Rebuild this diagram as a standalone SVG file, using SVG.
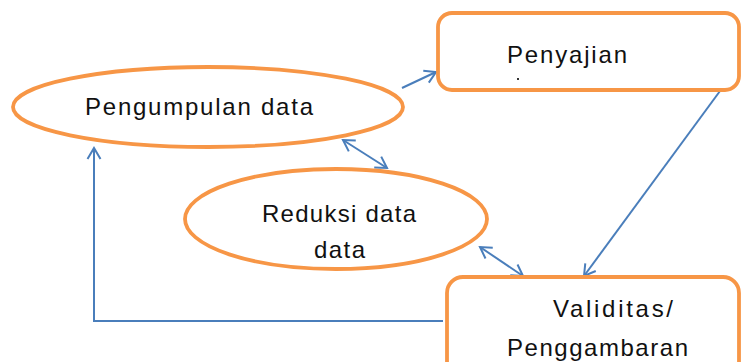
<svg xmlns="http://www.w3.org/2000/svg" width="741" height="362" viewBox="0 0 741 362">
<defs>
<marker id="ah" viewBox="-12 -8 14 16" refX="0" refY="0" markerWidth="14" markerHeight="16" markerUnits="userSpaceOnUse" orient="auto-start-reverse">
<path d="M-11,-6.5 L0,0 L-11,6.5" fill="none" stroke="#4A7EBB" stroke-width="2"/>
</marker>
<style>
.node{fill:#ffffff;stroke:#F79646;stroke-width:3.8}
.lbl{font-family:"Liberation Sans",Arial,sans-serif;font-size:24px;fill:#111111}
.con{fill:none;stroke:#4A7EBB;stroke-width:2}
</style>
</defs>
<rect width="741" height="362" fill="#ffffff"/>
<g id="connectors">
<line class="con" x1="402" y1="88" x2="436" y2="72" marker-end="url(#ah)"/>
<line class="con" x1="720" y1="91" x2="584" y2="276" marker-end="url(#ah)"/>
<line class="con" x1="343" y1="140" x2="387" y2="168" marker-start="url(#ah)" marker-end="url(#ah)"/>
<line class="con" x1="480" y1="247" x2="523" y2="276" marker-start="url(#ah)" marker-end="url(#ah)"/>
<polyline class="con" points="443,321 94,321 94,148" marker-end="url(#ah)"/>
</g>
<g id="pengumpulan">
<ellipse class="node" cx="208" cy="107" rx="195" ry="40"/>
<text class="lbl" x="85" y="115" textLength="228" lengthAdjust="spacing">Pengumpulan data</text>
</g>
<g id="penyajian">
<rect class="node" x="438" y="13" width="301" height="77" rx="14"/>
<text class="lbl" x="507" y="63" textLength="120" lengthAdjust="spacing">Penyajian</text>
<rect x="517" y="78" width="2" height="2" fill="#333333"/>
</g>
<g id="reduksi">
<ellipse class="node" cx="336" cy="219" rx="151" ry="50"/>
<text class="lbl" x="262" y="222" textLength="154" lengthAdjust="spacing">Reduksi data</text>
<text class="lbl" x="314" y="258" textLength="51" lengthAdjust="spacing">data</text>
</g>
<g id="validitas">
<rect class="node" x="447" y="277" width="292" height="110" rx="16"/>
<text class="lbl" x="553" y="317" textLength="120" lengthAdjust="spacing">Validitas/</text>
<text class="lbl" x="507" y="356" textLength="181" lengthAdjust="spacing">Penggambaran</text>
</g>
</svg>
